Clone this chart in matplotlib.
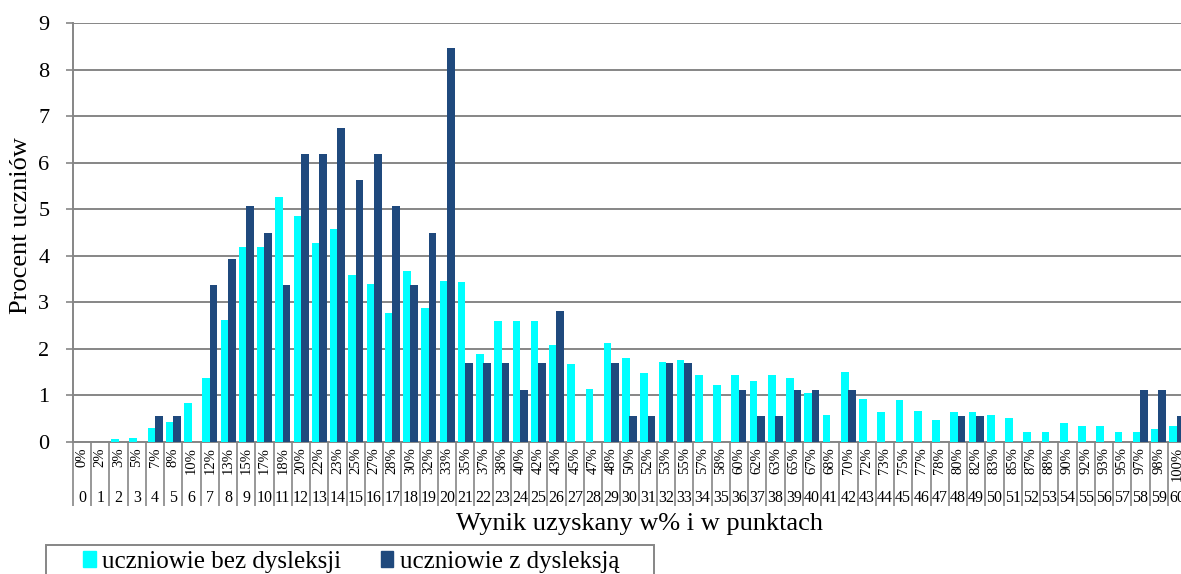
import numpy as np
import matplotlib.pyplot as plt
from matplotlib.patches import Rectangle
from matplotlib.transforms import blended_transform_factory

plt.rcParams['font.family'] = ['Liberation Serif', 'DejaVu Serif']

# dane (wynik 0..60 pkt)
punkty = list(range(61))
procenty = ['0%', '2%', '3%', '5%', '7%', '8%', '10%', '12%', '13%', '15%',
            '17%', '18%', '20%', '22%', '23%', '25%', '27%', '28%', '30%', '32%',
            '33%', '35%', '37%', '38%', '40%', '42%', '43%', '45%', '47%', '48%',
            '50%', '52%', '53%', '55%', '57%', '58%', '60%', '62%', '63%', '65%',
            '67%', '68%', '70%', '72%', '73%', '75%', '77%', '78%', '80%', '82%',
            '83%', '85%', '87%', '88%', '90%', '92%', '93%', '95%', '97%', '98%',
            '100%']
bez_dysleksji = [0, 0, 0.05, 0.09, 0.29, 0.42, 0.83, 1.37, 2.62, 4.19,
                 4.19, 5.27, 4.86, 4.27, 4.57, 3.58, 3.39, 2.76, 3.67, 2.88,
                 3.46, 3.43, 1.88, 2.59, 2.59, 2.59, 2.09, 1.67, 1.13, 2.13,
                 1.79, 1.47, 1.72, 1.76, 1.43, 1.22, 1.43, 1.31, 1.43, 1.38,
                 1.05, 0.58, 1.51, 0.92, 0.63, 0.89, 0.67, 0.46, 0.63, 0.63,
                 0.58, 0.50, 0.21, 0.21, 0.41, 0.33, 0.33, 0.21, 0.21, 0.28,
                 0.33]
z_dysleksja = [0, 0, 0, 0, 0.56, 0.56, 0, 3.38, 3.93, 5.06,
               4.49, 3.38, 6.18, 6.18, 6.74, 5.62, 6.18, 5.06, 3.38, 4.49,
               8.47, 1.69, 1.69, 1.69, 1.12, 1.69, 2.81, 0, 0, 1.69,
               0.56, 0.56, 1.69, 1.69, 0, 0, 1.12, 0.56, 0.56, 1.12,
               1.12, 0, 1.12, 0, 0, 0, 0, 0, 0.56, 0.56,
               0, 0, 0, 0, 0, 0, 0, 0, 1.12, 1.12,
               0.56]

W, H = 1181, 574
fig = plt.figure(figsize=(W / 100, H / 100), dpi=100)
ax = fig.add_axes([73 / W, 1 - 441.7 / H, (1186 - 73) / W, (441.7 - 23.3) / H])

x = np.array(punkty)
szer = 0.42
ax.bar(x - 0.2, bez_dysleksji, szer, color='#00FFFF', zorder=3)
ax.bar(x + 0.2, z_dysleksja, szer, color='#1F497D', zorder=3)

szary = '#868686'
ax.set_ylim(0, 9)
ax.set_xlim(-0.5, 60.5)
ax.set_yticks(range(10))
ax.yaxis.grid(True, color=szary, linewidth=1.4, zorder=1)
ax.tick_params(axis='y', length=5, width=1.2, color=szary, labelsize=16, pad=12)

for s in ['top', 'right']:
    ax.spines[s].set_visible(False)
ax.spines['left'].set_color(szary)
ax.spines['left'].set_linewidth(1.4)
ax.spines['bottom'].set_color(szary)
ax.spines['bottom'].set_linewidth(1.4)

# etykiety procentowe i linie oddzielające kategorie
ax.set_xticks(x)
ax.set_xticklabels(procenty, rotation=90, fontsize=10.5)
ax.tick_params(axis='x', which='major', length=0, pad=4)
ax.set_xticks(x - 0.5, minor=True)
ax.tick_params(axis='x', which='minor', length=46, width=1.2, color=szary)

trans = blended_transform_factory(ax.transData, ax.transAxes)
for xi, p in zip(x, punkty):
    ax.text(xi, -0.134, str(p), transform=trans, ha='center', va='center',
            fontsize=11.5, clip_on=False)

fig.text(21 / W, 1 - 226 / H, 'Procent uczniów', rotation=90,
         ha='center', va='center', fontsize=19)
fig.text(640 / W, 1 - 524 / H, 'Wynik uzyskany w% i w punktach',
         ha='center', va='center', fontsize=19)

# legenda
ramka = Rectangle((46 / W, -0.05), (654 - 46) / W, 1 - 545 / H + 0.05,
                  transform=fig.transFigure, fill=False,
                  edgecolor=szary, linewidth=1.4)
fig.patches.append(ramka)
h1 = Rectangle((0, 0), 1, 1, color='#00FFFF')
h2 = Rectangle((0, 0), 1, 1, color='#1F497D')
fig.legend([h1, h2], ['uczniowie bez dysleksji', 'uczniowie z dysleksją'],
           loc='center left', bbox_to_anchor=(83 / W, 1 - 562 / H), ncol=2,
           frameon=False, fontsize=18, handlelength=0.5, handleheight=0.6,
           handletextpad=0.25, columnspacing=1.6, borderpad=0, borderaxespad=0)

fig.savefig('out.png', dpi=100)
